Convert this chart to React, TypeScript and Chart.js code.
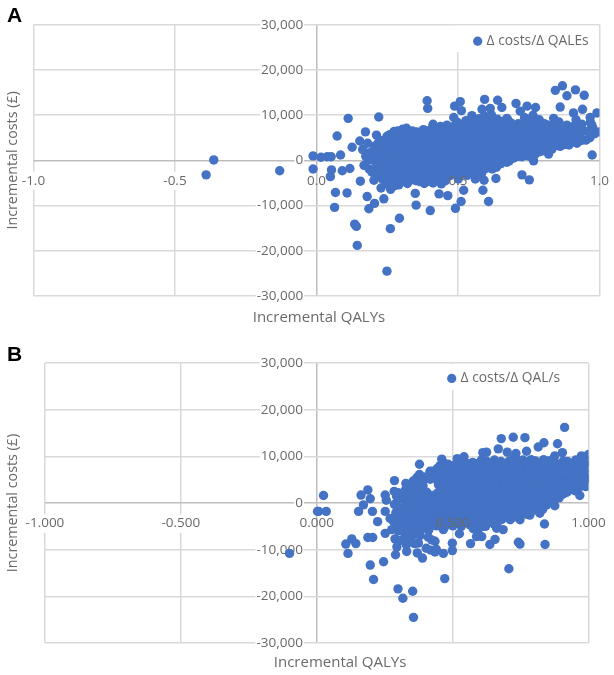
import React, { useEffect, useRef } from "react";
import { Chart, registerables } from "chart.js";

Chart.register(...registerables);

const xTitle = "Incremental QALYs";
const yTitle = "Incremental costs (£)";
const seriesA = "Δ costs/Δ QALEs";
const seriesB = "Δ costs/Δ QAL/s";

// Each pair: [incremental QALYs, incremental costs]
const outliersA: number[][] = [
  [-0.363,100],[-0.39,-3200],[-0.13,-2300],[-0.012,1000],[-0.012,-1900],[0.016,700],[0.038,800],[0.052,800],[0.053,-2100],[0.049,-3600],
  [0.085,1200],[0.091,-2300],[0.118,-1800],[0.073,5400],[0.112,9300],[0.22,9600],[0.067,-7100],[0.108,-7200],[0.064,-10400],[0.155,-4600],
  [0.179,-8000],[0.185,-10700],[0.205,-9500],[0.238,-8500],[0.135,-14100],[0.141,-14600],[0.144,-18800],[0.261,-15100],[0.293,-12800],[0.249,-24500],
  [0.349,-7300],[0.352,-9900],[0.402,-11100],[0.433,-7400],[0.464,-7800],[0.491,-10600],[0.511,-9100],[0.52,-6600],[0.588,-6600],[0.608,-9100],
  [0.726,-3200],[0.752,-4300],[0.634,-4000],[0.673,-400],[0.755,800],[0.767,-100],[0.974,1200],[0.82,1400],[0.153,4300],[0.126,2900],
  [0.173,6300],[0.212,5600],[0.391,13200],[0.393,11500],[0.412,8000],[0.461,7800],[0.488,12000],[0.508,13000],[0.512,11000],[0.485,9500],
  [0.549,9900],[0.594,13500],[0.64,13300],[0.655,11700],[0.585,11300],[0.614,11500],[0.705,12600],[0.72,10900],[0.744,12000],[0.774,11700],
  [0.673,9300],[0.844,15500],[0.869,16500],[0.885,14300],[0.915,15600],[0.946,14400],[0.861,11800],[0.94,11300],[0.991,10500],[0.908,10500],
  [0.967,9500],[0.973,7800],[1.0,6300],[0.92,3800],[0.838,9300],[0.926,7700],[0.885,7800],
];

const cloudA: number[][] = [
  [0.168,-1100],[0.174,900],[0.163,2400],[0.203,-4400],[0.196,-2600],[0.207,-300],[0.199,1500],[0.205,3100],
  [0.228,-6100],[0.233,-4100],[0.224,-2300],[0.236,-700],[0.229,1300],[0.234,2900],[0.226,4400],
  [0.262,-6400],[0.255,-4600],[0.266,-2600],[0.258,-1000],[0.263,1000],[0.256,2600],[0.267,4600],[0.259,5700],
  [0.291,-5400],[0.285,-3800],[0.296,-1800],[0.288,-200],[0.293,1800],[0.284,3400],[0.295,5200],[0.287,6500],
  [0.321,-5100],[0.314,-3100],[0.326,-1500],[0.317,500],[0.323,2100],[0.315,4100],[0.325,5700],[0.318,7100],
  [0.352,-4500],[0.345,-2900],[0.356,-900],[0.348,700],[0.354,2700],[0.346,4300],[0.355,6300],
  [0.381,-5100],[0.374,-3100],[0.386,-1300],[0.377,300],[0.383,2300],[0.375,3900],[0.385,5900],[0.378,6800],
  [0.412,-5000],[0.404,-3400],[0.416,-1400],[0.407,200],[0.413,2200],[0.405,3800],[0.415,5800],[0.408,7100],
  [0.441,-5200],[0.434,-3200],[0.446,-1600],[0.437,400],[0.443,2000],[0.435,4000],[0.445,5600],[0.438,7500],
  [0.472,-3400],[0.464,-1800],[0.476,200],[0.467,1800],[0.473,3800],[0.465,5400],[0.475,7300],
  [0.501,-4100],[0.494,-2100],[0.506,-500],[0.497,1500],[0.503,3100],[0.495,5100],[0.505,6700],[0.498,8400],
  [0.532,-3300],[0.524,-1700],[0.536,300],[0.527,1900],[0.533,3900],[0.525,5500],[0.535,7500],[0.528,8800],
  [0.561,-4100],[0.554,-2100],[0.566,-500],[0.557,1500],[0.563,3100],[0.555,5100],[0.565,6700],[0.558,8600],
  [0.592,-4400],[0.584,-2800],[0.596,-800],[0.587,800],[0.593,2800],[0.585,4400],[0.595,6400],[0.588,8000],[0.594,9800],
  [0.621,-1900],[0.614,-300],[0.626,1700],[0.617,3300],[0.623,5300],[0.615,6900],[0.625,8900],[0.618,10100],
  [0.652,-700],[0.644,900],[0.656,2900],[0.647,4500],[0.653,6500],[0.645,8100],
  [0.681,-100],[0.674,1900],[0.686,3500],[0.677,5500],[0.683,7100],[0.675,9000],
  [0.712,900],[0.704,2500],[0.716,4500],[0.707,6100],[0.713,8100],
  [0.741,1100],[0.734,2700],[0.746,4700],[0.737,6300],[0.743,8300],[0.735,9500],
  [0.772,1300],[0.764,3300],[0.776,4900],[0.767,6900],[0.773,8400],[0.765,10000],
  [0.801,2100],[0.794,3700],[0.806,5700],[0.797,7100],[0.803,8200],
  [0.832,2500],[0.824,4500],[0.836,6100],[0.827,7700],
  [0.861,3100],[0.854,4700],[0.866,6700],[0.857,8500],
  [0.892,3400],[0.884,5400],[0.896,6900],
  [0.921,4100],[0.914,5700],[0.926,7300],[0.917,9000],
  [0.952,4500],[0.944,6500],[0.983,5900],[0.977,7100],
];

const cloudA2: number[][] = [
  [0.186,-1900],[0.183,100],[0.188,1700],[0.181,3800],
  [0.216,-3600],[0.213,-1400],[0.218,200],[0.211,2200],[0.217,3800],
  [0.246,-5200],[0.243,-3600],[0.248,-1600],[0.241,0],[0.247,2000],[0.242,3600],[0.249,5300],
  [0.276,-5600],[0.272,-3500],[0.279,-1900],[0.273,100],[0.277,1700],[0.271,3700],[0.278,5300],[0.274,6400],
  [0.306,-4500],[0.302,-2900],[0.308,-900],[0.303,700],[0.307,2700],[0.301,4300],[0.309,6300],[0.304,6900],
  [0.336,-4300],[0.332,-2300],[0.338,-700],[0.333,1300],[0.337,2900],[0.331,4900],[0.339,6500],
  [0.366,-4700],[0.362,-3100],[0.368,-1100],[0.363,500],[0.367,2500],[0.361,4100],[0.369,6100],
  [0.396,-4600],[0.392,-2600],[0.398,-1000],[0.393,1000],[0.397,2600],[0.391,4600],[0.399,6200],
  [0.426,-4100],[0.422,-2500],[0.428,-500],[0.423,1100],[0.427,3100],[0.421,4700],[0.429,6700],
  [0.456,-4500],[0.452,-2500],[0.458,-900],[0.453,1100],[0.457,2700],[0.451,4700],[0.459,6300],
  [0.486,-2700],[0.482,-1100],[0.488,900],[0.483,2500],[0.487,4500],[0.481,6100],[0.489,7700],
  [0.516,-3000],[0.512,-1000],[0.518,600],[0.513,2600],[0.517,4200],[0.511,6200],[0.519,7800],
  [0.546,-2600],[0.542,-1000],[0.548,1000],[0.543,2600],[0.547,4600],[0.541,6200],[0.549,8200],
  [0.576,-3500],[0.572,-1500],[0.578,100],[0.573,2100],[0.577,3700],[0.571,5700],[0.579,7300],[0.574,9200],
  [0.606,-1100],[0.602,500],[0.608,2500],[0.603,4100],[0.607,6100],[0.601,7700],[0.609,9300],
  [0.636,-1500],[0.632,300],[0.638,1900],[0.633,3900],[0.637,5500],[0.631,7500],[0.639,9100],
  [0.666,-200],[0.662,1400],[0.668,3400],[0.663,5000],[0.667,7000],[0.661,8700],
  [0.696,500],[0.692,2100],[0.698,4100],[0.693,5700],[0.697,7700],
  [0.726,800],[0.722,2800],[0.728,4400],[0.723,6400],[0.727,8000],
  [0.756,1700],[0.752,3300],[0.758,5300],[0.753,6900],[0.757,8800],
  [0.786,1900],[0.782,3500],[0.788,5500],[0.783,7100],[0.787,9000],
  [0.816,2300],[0.812,4300],[0.818,5900],[0.813,7900],
  [0.846,3300],[0.842,4900],[0.848,6900],[0.843,8600],
  [0.876,3500],[0.872,5500],[0.878,7000],
  [0.906,4100],[0.902,5700],[0.908,7500],
  [0.936,4400],[0.932,6400],[0.938,8000],
  [0.966,5000],[0.962,6500],[0.968,8400],
];

const cloudA3: number[][] = [
  [0.24,-3000],[0.238,-1200],[0.243,600],[0.239,2400],
  [0.27,-4700],[0.268,-2800],[0.273,-1100],[0.269,700],[0.272,2500],[0.267,4300],
  [0.299,-3700],[0.303,-2000],[0.298,-300],[0.302,1500],[0.297,3300],[0.301,5100],
  [0.329,-3900],[0.333,-2000],[0.328,-300],[0.332,1500],[0.327,3300],[0.331,5000],
  [0.359,-3800],[0.363,-2100],[0.358,-200],[0.362,1600],[0.357,3400],[0.361,5200],
  [0.389,-3900],[0.393,-2100],[0.388,-300],[0.392,1500],[0.387,3300],[0.391,5100],[0.386,6500],
  [0.419,-4000],[0.423,-2100],[0.418,-300],[0.422,1500],[0.417,3200],[0.421,5000],[0.416,6500],
  [0.449,-3900],[0.453,-2000],[0.448,-200],[0.452,1600],[0.447,3400],[0.451,5100],[0.446,6800],
  [0.479,-1800],[0.483,-100],[0.478,1500],[0.482,3200],[0.477,5100],[0.481,6600],
  [0.509,-2000],[0.513,-200],[0.508,1600],[0.512,3400],[0.507,5200],[0.511,7100],
  [0.539,-2000],[0.543,-100],[0.538,1600],[0.542,3300],[0.537,5000],[0.541,6800],[0.536,8000],
  [0.569,-2500],[0.573,-800],[0.568,900],[0.572,2800],[0.567,4500],[0.571,6600],[0.566,8300],
  [0.599,-1800],[0.603,100],[0.598,1700],[0.602,3600],[0.597,5300],[0.601,7100],[0.596,8900],
  [0.629,-600],[0.633,1100],[0.628,2700],[0.632,4600],[0.627,6100],[0.631,8000],
  [0.659,600],[0.663,2300],[0.658,4000],[0.662,5800],[0.657,7700],
  [0.689,1200],[0.693,3000],[0.688,4800],[0.692,6600],[0.687,8300],
  [0.719,1600],[0.723,3500],[0.718,5300],[0.722,7100],
  [0.749,2400],[0.753,4100],[0.748,6000],[0.752,7900],
  [0.779,2700],[0.783,4400],[0.778,6300],[0.782,8100],
  [0.809,3000],[0.813,4900],[0.808,6700],
  [0.839,3800],[0.843,5600],[0.838,7500],
  [0.869,4300],[0.873,6200],[0.899,4800],[0.903,6400],[0.929,5200],[0.933,7000],
];

const outliersB: number[][] = [
  [-0.1,-10800],[0.025,1600],[0.003,-1800],[0.007,-1800],[0.035,-1800],[0.154,-1800],[0.163,1700],[0.188,2800],[0.197,900],[0.172,-400],
  [0.205,-1800],[0.224,-4000],[0.107,-8800],[0.129,-7700],[0.144,-8700],[0.115,-10800],[0.188,-7400],[0.206,-7400],[0.197,-13300],[0.246,-12600],
  [0.209,-16400],[0.299,-18400],[0.317,-20400],[0.353,-18900],[0.356,-24500],[0.471,-16200],[0.707,-14100],[0.84,-8900],[0.742,-8400],[0.748,-8800],
  [0.838,-4500],[0.566,-8700],[0.637,-8900],[0.656,-7800],[0.499,-8600],[0.499,-10200],[0.466,-10800],[0.435,-10500],[0.389,-11800],[0.37,-10700],
  [0.331,-10400],[0.29,-11100],[0.295,-9400],[0.288,-7700],[0.252,-6500],[0.276,-5700],[0.252,-1800],[0.27,-3300],[0.256,600],[0.252,1700],
  [0.286,4800],[0.328,4200],[0.378,8300],[0.417,6800],[0.46,9400],[0.472,8400],[0.517,9500],[0.542,9900],[0.564,8100],[0.611,10800],
  [0.625,10900],[0.668,11600],[0.679,13800],[0.723,14100],[0.766,14000],[0.701,10900],[0.733,10600],[0.772,11100],[0.815,12000],[0.836,12900],
  [0.886,12700],[0.912,16200],[0.904,10800],[0.876,10100],[1.0,10400],[0.974,10100],[1.0,6300],[0.99,3500],[0.968,1600],[0.876,-600],
  [0.821,-2200],[0.784,-2600],[0.748,-3600],[0.686,-5700],[0.662,-5400],[0.607,-7200],[0.588,-7200],[0.564,-4700],[0.525,-6600],[0.466,-5700],
  [0.423,-7900],[0.435,-8200],[0.374,-8600],[0.356,-6800],[0.325,-6800],
  [0.31,-8000],[0.34,-7900],[0.30,-6000],[0.33,-9000],[0.36,-8700],[0.38,-7000],[0.41,-7300],[0.403,-9700],[0.44,-9900],[0.42,-10100],
];

const cloudB: number[][] = [
  [0.282,-3900],[0.291,-2100],[0.286,-300],[0.294,1400],[0.285,2500],
  [0.321,-4300],[0.314,-2500],[0.325,-900],[0.317,900],[0.323,2500],[0.331,-5600],
  [0.352,-5900],[0.344,-4100],[0.356,-2300],[0.347,-500],[0.353,1300],[0.345,2900],[0.355,4700],
  [0.381,-6000],[0.374,-4200],[0.386,-2600],[0.377,-800],[0.383,1000],[0.375,2800],[0.385,4400],[0.378,6100],
  [0.412,-5800],[0.404,-4000],[0.416,-2200],[0.407,-400],[0.413,1400],[0.405,2300],[0.418,5600],
  [0.441,-4900],[0.434,-3100],[0.446,-1500],[0.437,300],[0.443,2100],[0.448,3900],[0.437,5700],[0.444,7400],
  [0.472,-5000],[0.464,-3200],[0.476,-1400],[0.467,400],[0.473,2200],[0.465,4000],[0.475,5800],[0.468,7600],
  [0.501,-4900],[0.494,-3300],[0.506,-1300],[0.497,300],[0.503,2300],[0.495,3900],[0.505,5900],[0.498,7900],
  [0.532,-5000],[0.524,-3200],[0.536,-1600],[0.527,400],[0.533,2000],[0.525,4000],[0.535,5600],[0.528,7600],[0.538,8500],
  [0.561,-3000],[0.554,-1400],[0.566,600],[0.557,2200],[0.563,4200],[0.555,5800],[0.565,7400],[0.558,8400],
  [0.592,-6000],[0.584,-4000],[0.596,-2400],[0.587,-400],[0.593,1200],[0.585,3200],[0.595,4800],[0.588,6800],[0.594,8500],
  [0.621,-5000],[0.614,-3400],[0.626,-1400],[0.617,200],[0.623,2200],[0.615,3800],[0.625,5800],[0.618,7400],[0.624,9000],
  [0.652,-4500],[0.644,-2900],[0.656,-900],[0.647,700],[0.653,2700],[0.645,4300],[0.655,6300],[0.648,7900],[0.654,9200],
  [0.681,-3500],[0.674,-1900],[0.686,100],[0.677,1700],[0.683,3700],[0.675,5300],[0.685,7300],[0.678,8900],
  [0.712,-3600],[0.704,-1600],[0.716,0],[0.707,2000],[0.713,3600],[0.705,5600],[0.715,7200],[0.708,9000],
  [0.741,-2500],[0.734,-900],[0.746,1100],[0.737,2700],[0.743,4700],[0.735,6300],[0.745,8300],[0.738,9200],
  [0.772,-2400],[0.764,-400],[0.776,1200],[0.767,3200],[0.773,4800],[0.765,6800],[0.775,8400],
  [0.801,-1500],[0.794,100],[0.806,2100],[0.797,3700],[0.803,5700],[0.795,7300],[0.805,9000],
  [0.832,-1300],[0.824,700],[0.836,2300],[0.827,4300],[0.833,5900],[0.825,7900],[0.835,9300],
  [0.861,200],[0.854,1800],[0.866,3800],[0.857,5400],[0.863,7400],[0.855,9000],
  [0.892,1100],[0.884,3100],[0.896,4700],[0.887,6700],[0.893,8300],
  [0.921,2300],[0.914,3900],[0.926,5900],[0.917,7500],[0.923,8900],
  [0.952,2600],[0.944,4600],[0.956,6200],[0.947,8200],[0.953,9200],
  [0.983,4600],[0.977,6200],[0.986,8200],[0.979,9500],[0.992,5400],
];

const cloudB2: number[][] = [
  [0.301,-4800],[0.304,-3100],[0.298,-900],[0.303,700],[0.299,2200],
  [0.336,-5100],[0.332,-3200],[0.338,-1600],[0.333,400],[0.337,1900],[0.331,3500],
  [0.366,-5200],[0.362,-3600],[0.368,-1400],[0.363,200],[0.367,2200],[0.361,3800],[0.369,5500],
  [0.396,-5300],[0.392,-3300],[0.398,-1700],[0.393,300],[0.397,1900],[0.391,3700],[0.399,5600],
  [0.431,-4700],[0.427,-2700],[0.433,-1100],[0.428,900],[0.432,5400],[0.426,6800],
  [0.456,-3900],[0.452,-2300],[0.458,-300],[0.453,1300],[0.457,3300],[0.451,4900],[0.459,6900],[0.454,8000],
  [0.486,-4200],[0.482,-2200],[0.488,-600],[0.483,1400],[0.487,3000],[0.481,5000],[0.489,6600],[0.484,8300],
  [0.516,-3900],[0.512,-2300],[0.518,-300],[0.513,1300],[0.517,3300],[0.511,4900],[0.519,6900],[0.514,8400],
  [0.546,-4000],[0.542,-2000],[0.548,-400],[0.543,1600],[0.547,3200],[0.541,5200],[0.549,6800],[0.544,8000],
  [0.576,-5500],[0.572,-2200],[0.578,-200],[0.573,1400],[0.577,3400],[0.571,5000],[0.579,7000],[0.574,8700],
  [0.606,-5100],[0.602,-3100],[0.608,-1500],[0.603,500],[0.607,2100],[0.601,4100],[0.609,5700],[0.604,7700],[0.606,9200],
  [0.636,-4100],[0.632,-2500],[0.638,-500],[0.633,1100],[0.637,3100],[0.631,4700],[0.639,6700],[0.634,8400],
  [0.666,-4100],[0.662,-2100],[0.668,-500],[0.663,1500],[0.667,3100],[0.661,5100],[0.669,6700],[0.664,8600],
  [0.696,-2500],[0.692,-900],[0.698,1100],[0.693,2700],[0.697,4700],[0.691,6300],[0.699,8200],
  [0.726,-3000],[0.722,-1000],[0.728,600],[0.723,2600],[0.727,4200],[0.721,6200],[0.729,7800],[0.724,9500],
  [0.756,-1500],[0.752,100],[0.758,2100],[0.753,3700],[0.757,5700],[0.751,7300],[0.759,9200],
  [0.786,-1400],[0.782,600],[0.788,2200],[0.783,4200],[0.787,5800],[0.781,7800],[0.789,9300],
  [0.816,-500],[0.812,1100],[0.818,3100],[0.813,4700],[0.817,6700],[0.811,8400],
  [0.846,-400],[0.842,1600],[0.848,3200],[0.843,5200],[0.847,6800],[0.841,8700],
  [0.876,900],[0.872,2500],[0.878,4500],[0.873,6100],[0.877,8100],[0.871,9400],
  [0.906,1900],[0.902,3900],[0.908,5500],[0.903,7500],[0.907,9000],
  [0.936,3200],[0.932,4800],[0.938,6800],[0.933,8500],
  [0.966,3400],[0.962,5400],[0.968,7000],[0.963,8900],
  [0.99,5200],[0.988,7200],[0.994,9000],
];

const cloudB3: number[][] = [
  [0.329,-4100],[0.333,-2400],[0.328,-600],[0.332,1200],[0.327,2800],
  [0.359,-4500],[0.363,-2700],[0.358,-700],[0.362,1100],[0.357,3000],[0.361,4600],
  [0.389,-4700],[0.393,-2500],[0.388,-700],[0.392,1100],[0.387,3000],[0.391,4700],
  [0.419,-3900],[0.423,-2300],[0.418,-200],[0.422,1600],[0.417,5100],
  [0.449,-3500],[0.453,-1300],[0.448,600],[0.452,2500],[0.447,4400],[0.451,6200],[0.446,7500],
  [0.479,-3700],[0.483,-1500],[0.478,400],[0.482,2000],[0.477,3900],[0.481,5800],[0.476,7400],
  [0.509,-3500],[0.513,-1700],[0.508,100],[0.512,1900],[0.507,3700],[0.511,5400],[0.506,7300],
  [0.539,-3500],[0.543,-1300],[0.538,500],[0.542,2300],[0.537,4100],[0.541,5900],[0.536,7700],
  [0.569,-3700],[0.573,-1000],[0.568,800],[0.572,2600],[0.567,4300],[0.571,6100],[0.566,7800],
  [0.599,-4500],[0.603,-2500],[0.598,-700],[0.602,900],[0.597,2900],[0.601,4600],[0.596,6300],[0.6,8100],
  [0.629,-3900],[0.633,-1900],[0.628,-100],[0.632,1600],[0.627,3400],[0.631,5300],[0.626,7000],[0.63,8600],
  [0.659,-3300],[0.663,-1300],[0.658,500],[0.662,2300],[0.657,4100],[0.661,5900],[0.656,7800],
  [0.689,-1700],[0.693,100],[0.688,1900],[0.692,3700],[0.687,5500],[0.691,7300],
  [0.719,-2100],[0.723,-300],[0.718,1300],[0.722,3100],[0.717,4900],[0.721,6700],[0.716,8500],
  [0.749,-1900],[0.753,-400],[0.748,1400],[0.752,3200],[0.747,5000],[0.751,6700],[0.746,8500],
  [0.779,-1900],[0.783,-100],[0.778,1700],[0.782,3500],[0.777,5300],[0.781,7100],[0.776,8800],
  [0.809,-900],[0.813,900],[0.808,2700],[0.812,4400],[0.807,6100],[0.811,7900],
  [0.839,100],[0.843,1900],[0.838,3700],[0.842,5500],[0.837,7300],
  [0.869,1000],[0.873,2800],[0.868,4600],[0.872,6400],[0.867,8600],
  [0.899,2400],[0.903,4200],[0.898,6000],[0.902,7900],
  [0.929,2800],[0.933,4400],[0.928,6200],[0.932,8000],
  [0.959,4000],[0.963,5800],[0.958,7600],[0.962,9100],
  [0.985,4800],[0.982,6700],[0.987,8500],
];

const xTicks = [-1, -0.5, 0, 0.5, 1];
const yTicks = [-30000, -20000, -10000, 0, 10000, 20000, 30000];

const FONT = "'Open Sans', 'Noto Sans', sans-serif";
const TEXT = "#6a6a6a";
const GRID = "#d9d9d9";
const ZERO = "#bdbdbd";
const BLUE = "#4472c4";

const legendPlacer = {
  id: "legendPlacer",
  afterLayout(chart: any, _args: any, opts: any) {
    const l = chart.legend;
    if (l) {
      l.left = opts.legendLeft;
      l.right = opts.legendLeft + 150;
      l.top = opts.legendTop;
      l.bottom = opts.legendTop + 22;
    }
    const sub = chart.boxes.find((b: any) => b.options && b.options.text === xTitle);
    if (sub) sub.left += opts.xTitleShift * 2;
  },
  afterDraw(chart: any, _args: any, opts: any) {
    const ctx = chart.ctx;
    ctx.save();
    ctx.fillStyle = "#ffffff";
    ctx.fillRect(opts.maskLeft, opts.maskTop, opts.maskWidth, opts.maskHeight);
    ctx.restore();
    chart.legend._draw();
  },
};

function buildConfig(p: any) {
  return {
    type: "scatter",
    data: {
      datasets: [
        {
          label: p.label,
          data: p.points.map(([x, y]: number[]) => ({ x, y })),
          backgroundColor: BLUE,
          borderWidth: 0,
          pointRadius: 4.7,
          pointHoverRadius: 4.7,
          pointStyle: "circle",
        },
      ],
    },
    plugins: [legendPlacer],
    options: {
      responsive: false,
      animation: false,
      layout: { padding: { left: 0, right: p.padRight, top: p.padTop, bottom: 0 } },
      scales: {
        x: {
          type: "linear",
          min: -1,
          max: 1,
          position: { y: p.xLabelY },
          border: { display: false },
          afterBuildTicks: (s: any) => {
            s.ticks = xTicks.map((value) => ({ value }));
          },
          grid: {
            drawTicks: false,
            lineWidth: 1.5,
            color: (c: any) => (c.tick && c.tick.value === 0 ? ZERO : GRID),
          },
          ticks: {
            z: 1,
            padding: 0,
            maxRotation: 0,
            autoSkip: false,
            color: TEXT,
            font: { family: FONT, size: 13.5 },
            showLabelBackdrop: (c: any) => !!c.tick && c.tick.value < 0,
            backdropColor: "#ffffff",
            backdropPadding: 1,
            callback: (v: number) => Number(v).toFixed(p.xDecimals),
          },
        },
        y: {
          type: "linear",
          min: -30000,
          max: 30000,
          position: { x: p.yLabelX },
          border: { display: false },
          afterBuildTicks: (s: any) => {
            s.ticks = yTicks.map((value) => ({ value }));
          },
          grid: {
            drawTicks: false,
            lineWidth: 1.5,
            color: (c: any) => (c.tick && c.tick.value === 0 ? ZERO : GRID),
          },
          ticks: {
            autoSkip: false,
            color: TEXT,
            font: { family: FONT, size: 13.5 },
            showLabelBackdrop: true,
            backdropColor: "#ffffff",
            backdropPadding: 1,
            callback: (v: number) => Number(v).toLocaleString("en-US"),
          },
        },
      },
      plugins: {
        tooltip: { enabled: false },
        legend: {
          display: true,
          position: "top",
          align: "start",
          labels: {
            usePointStyle: true,
            boxWidth: 4,
            boxHeight: 6.5,
            padding: 0,
            color: TEXT,
            font: { family: FONT, size: 13.8 },
          },
        },
        title: {
          display: true,
          text: yTitle,
          position: "left",
          fullSize: false,
          color: TEXT,
          font: { family: FONT, size: 14.3, weight: "normal" },
          padding: p.yTitlePad,
        },
        subtitle: {
          display: true,
          text: xTitle,
          position: "bottom",
          fullSize: false,
          color: TEXT,
          font: { family: FONT, size: 15, weight: "normal" },
          padding: p.xTitlePad,
        },
        legendPlacer: p.place,
      },
    },
  };
}

const panelA = {
  label: seriesA,
  points: [...outliersA, ...cloudA, ...cloudA2, ...cloudA3],
  xDecimals: 1,
  xLabelY: -2760,
  yLabelX: -0.047,
  padRight: 14.5,
  padTop: 1,
  yTitlePad: { top: 4.2, bottom: 12.1 },
  xTitlePad: { top: 13, bottom: 8 },
  place: { legendLeft: 475.7, legendTop: 34.25, xTitleShift: 2.5, maskLeft: 455, maskTop: 25.5, maskWidth: 143.5, maskHeight: 26.5 },
};

const panelB = {
  label: seriesB,
  points: [...outliersB, ...cloudB, ...cloudB2, ...cloudB3],
  xDecimals: 3,
  xLabelY: -2680,
  yLabelX: -0.051,
  padRight: 25.5,
  padTop: 4.2,
  yTitlePad: { top: 4.7, bottom: 23.1 },
  xTitlePad: { top: 11, bottom: 3 },
  place: { legendLeft: 449.7, legendTop: 36.5, xTitleShift: 23.3, maskLeft: 441, maskTop: 29, maskWidth: 127, maskHeight: 26 },
};

function Panel({ top, height, config }: { top: number; height: number; config: any }) {
  const ref = useRef<HTMLCanvasElement>(null);
  useEffect(() => {
    const chart = new Chart(ref.current as HTMLCanvasElement, config);
    return () => chart.destroy();
  }, [config]);
  return (
    <canvas
      ref={ref}
      width={614}
      height={height}
      style={{ position: "absolute", left: 0, top, width: 614, height, display: "block" }}
    />
  );
}

const configA = buildConfig(panelA);
const configB = buildConfig(panelB);

const letter: React.CSSProperties = {
  position: "absolute",
  left: 7,
  fontFamily: "'Liberation Sans', Arial, sans-serif",
  fontWeight: 700,
  fontSize: 21,
  lineHeight: "24px",
  color: "#000",
};

export default function App() {
  return (
    <div style={{ position: "absolute", left: 0, top: 0, width: 614, height: 675, background: "#fff", overflow: "hidden" }}>
      <Panel top={0} height={335} config={configA} />
      <Panel top={335} height={340} config={configB} />
      <div style={{ ...letter, top: 3 }}>A</div>
      <div style={{ ...letter, top: 342 }}>B</div>
    </div>
  );
}
